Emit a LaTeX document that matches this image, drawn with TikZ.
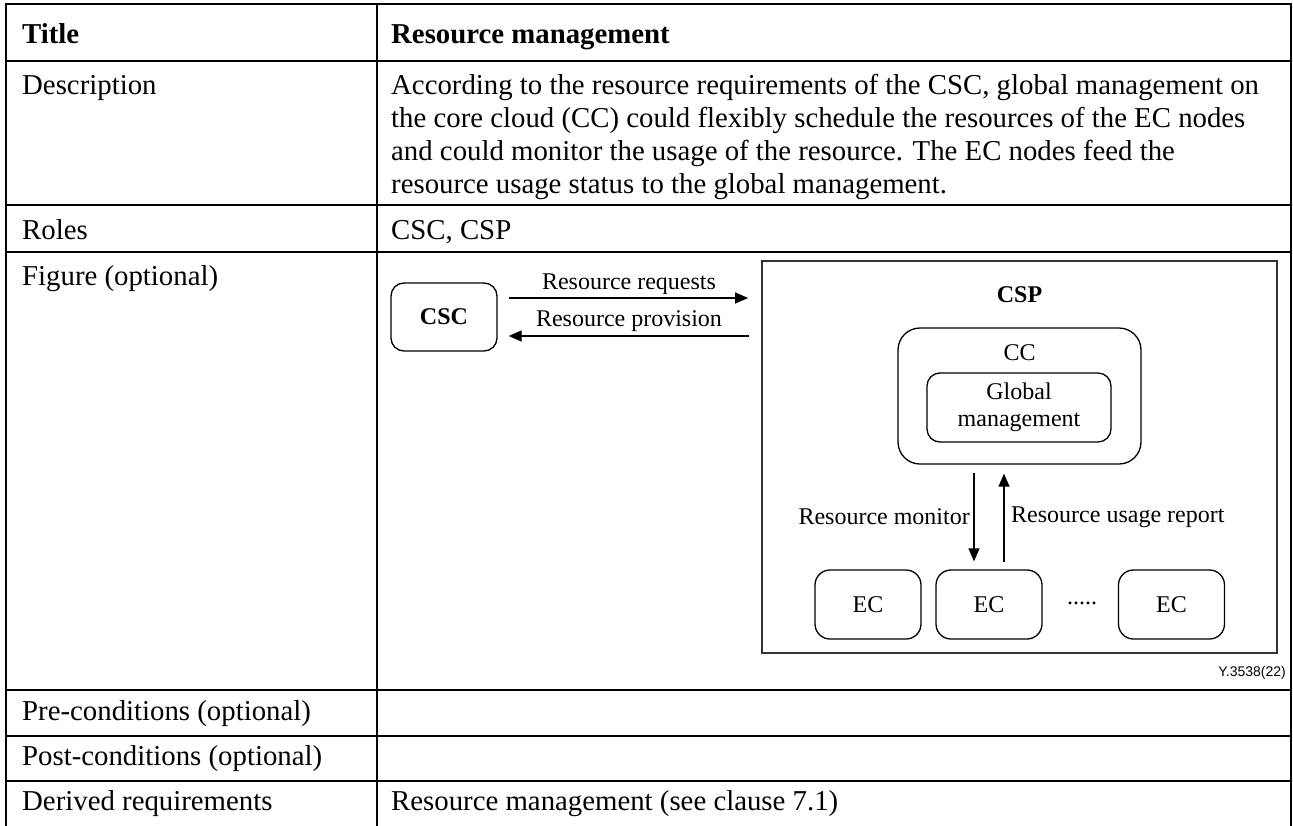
\documentclass[tikz,border=0pt]{standalone}
\usepackage{fontspec}
\setmainfont{Liberation Serif}
\newfontfamily\arialfont{Liberation Sans}
\usetikzlibrary{arrows.meta,calc}
\begin{document}
\begin{tikzpicture}[x=1pt,y=-1pt,
  tline/.style={line width=2.6pt,line cap=rect},
  ttext/.style={anchor=base west,inner sep=0pt,font=\fontsize{28.8}{33}\selectfont},
  tbold/.style={ttext,font=\fontsize{28.8}{33}\selectfont\bfseries},
  dbox/.style={draw,line width=1.3pt,rounded corners=13pt,inner sep=0pt},
  dtext/.style={inner sep=0pt,font=\fontsize{24}{27}\selectfont},
  arr/.style={line width=1.3pt,-{Triangle[length=13pt,width=11pt]}}
]
\useasboundingbox (0,0) rectangle (1293,825);
% table grid
\draw[tline] (6,825) -- (6,4) -- (1291,4) -- (1291,825);
\draw[tline] (377,4) -- (377,825);
\foreach \yy in {61,205,252,690,736,781} \draw[tline] (6,\yy) -- (1291,\yy);
% left column
\node[tbold] (t1) at (22,43) {Title};
\node[ttext] (t2) at (22,94) {Description};
\node[ttext] (t3) at (22,239) {Roles};
\node[ttext] (t4) at (22,285) {Figure (optional)};
\node[ttext] (t5) at (22,720) {Pre-conditions (optional)};
\node[ttext] (t6) at (22,765) {Post-conditions (optional)};
\node[ttext] (t7) at (22,810) {Derived requirements};
% right column
\node[tbold] (v1) at (391,43) {Resource management};
\node[ttext] (v2a) at (391,94) {According to the resource requirements of the CSC, global management on};
\node[ttext] (v2b) at (391,127) {the core cloud (CC) could flexibly schedule the resources of the EC nodes};
\node[ttext] (v2c) at (391,160) {and could monitor the usage of the resource. The EC nodes feed the};
\node[ttext] (v2d) at (391,193) {resource usage status to the global management.};
\node[ttext] (v3) at (391,239) {CSC, CSP};
\node[ttext] (v7) at (391,810) {Resource management (see clause 7.1)};
% figure
\node[dbox,minimum width=106pt,minimum height=68pt,dtext,font=\fontsize{24}{27}\selectfont\bfseries] (csc) at (444,317) {CSC};
\node[draw=black!80,line width=1.8pt,minimum width=515pt,minimum height=392pt,inner sep=0pt] (csp) at (1019.5,457) {};
\node[dtext,font=\fontsize{24}{27}\selectfont\bfseries,anchor=base] (csplbl) at (1019.5,302) {CSP};
\node[dbox,rounded corners=22pt,minimum width=243pt,minimum height=136pt] (cc) at (1019.5,396) {};
\node[dtext,anchor=base] (cclbl) at (1019.5,360) {CC};
\node[dbox,minimum width=184pt,minimum height=69pt,align=center,dtext] (gm) at (1019,407.5) {Global\\management};
\node[dbox,rounded corners=15pt,minimum width=106pt,minimum height=69pt,dtext] (ec1) at (868,604.5) {EC};
\node[dbox,rounded corners=15pt,minimum width=106pt,minimum height=69pt,dtext] (ec2) at (989,604.5) {EC};
\node[dbox,rounded corners=15pt,minimum width=106pt,minimum height=69pt,dtext] (ec3) at (1171.5,604.5) {EC};
\node[dtext] (dots) at (1082,603) {.....};
% CSC <-> CSP arrows
\coordinate (ra) at (0,298);
\coordinate (rb) at (0,336);
\draw[arr,shorten <=11pt,shorten >=13pt] (csc.east |- ra) -- (csp.west |- ra);
\draw[arr,shorten <=12pt,shorten >=11pt] (csp.west |- rb) -- (csc.east |- rb);
\node[dtext,anchor=base] (lreq) at (629,289) {Resource requests};
\node[dtext,anchor=base] (lprov) at (629,326) {Resource provision};
% CC <-> EC arrows
\coordinate (dn) at (974,0);
\coordinate (up) at (1004,0);
\draw[arr,shorten <=8pt,shorten >=8pt] (cc.south -| dn) -- (ec2.north -| dn);
\draw[arr,shorten <=7pt,shorten >=9pt] (ec2.north -| up) -- (cc.south -| up);
\node[dtext,anchor=east] (lmon) at (970,517) {Resource monitor};
\node[dtext,anchor=west] (lrep) at (1011,517) {Resource usage report};
\node[inner sep=0pt,anchor=east,font=\arialfont\fontsize{14}{16}\selectfont] (fig) at (1286,673) {Y.3538(22)};
\end{tikzpicture}
\end{document}
